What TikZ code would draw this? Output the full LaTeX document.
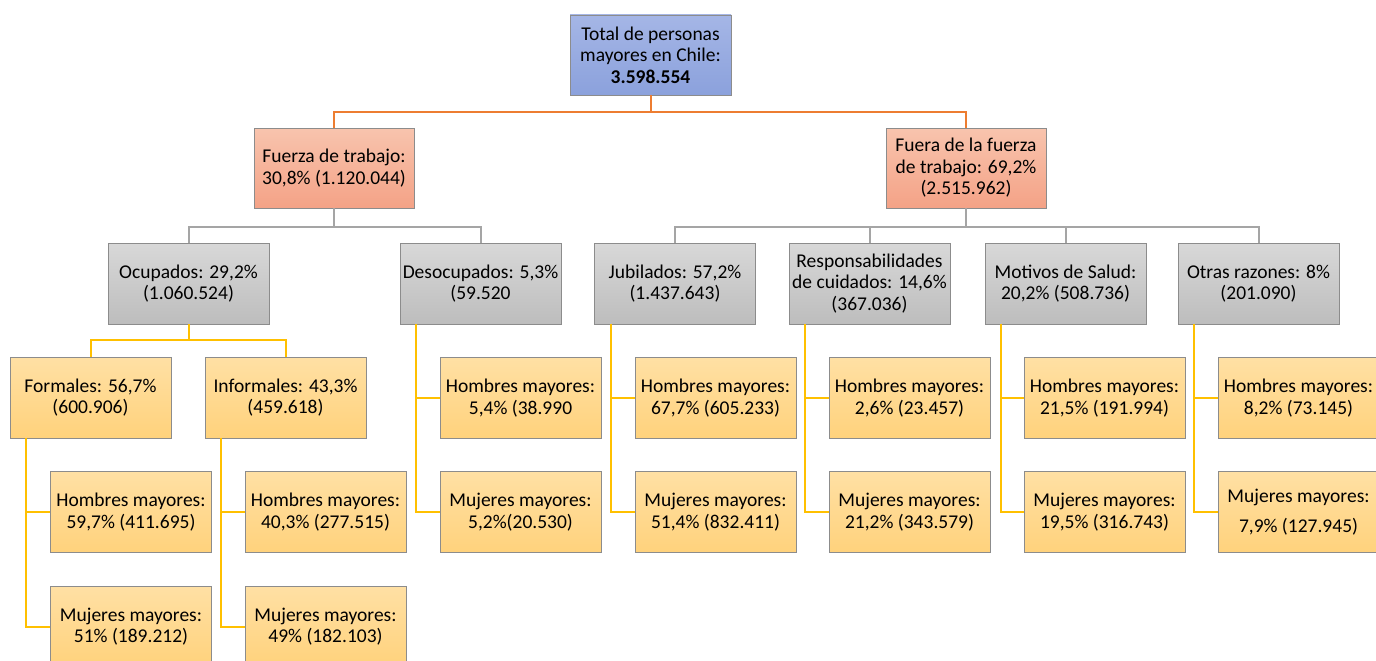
\documentclass[tikz,border=0pt]{standalone}
\usepackage{fontspec}
\setmainfont{Carlito}
\definecolor{blueT}{HTML}{A5B6E6}
\definecolor{blueB}{HTML}{8BA1DC}
\definecolor{orT}{HTML}{F8C4AE}
\definecolor{orB}{HTML}{F4A286}
\definecolor{grT}{HTML}{D8D8D8}
\definecolor{grB}{HTML}{BDBDBD}
\definecolor{yeT}{HTML}{FFE0A4}
\definecolor{yeB}{HTML}{FFD27C}
\definecolor{bord}{HTML}{8C8C8C}
\definecolor{lnO}{HTML}{ED7D31}
\definecolor{lnG}{HTML}{A5A5A5}
\definecolor{lnY}{HTML}{FFC000}
\tikzset{
  box/.style={draw=bord, line width=0.9pt, align=center, inner sep=2pt,
    minimum width=161pt, minimum height=81pt,
    font=\fontsize{19.5}{21.5}\selectfont},
  bluebox/.style={box, top color=blueT, bottom color=blueB},
  orbox/.style={box, top color=orT, bottom color=orB, minimum width=160pt, minimum height=80pt},
  grbox/.style={box, top color=grT, bottom color=grB},
  yebox/.style={box, top color=yeT, bottom color=yeB},
  oline/.style={draw=lnO, line width=2pt},
  gline/.style={draw=lnG, line width=2pt},
  yline/.style={draw=lnY, line width=2pt},
}
\begin{document}
\begin{tikzpicture}[x=1pt,y=-1pt]
\useasboundingbox (0,0) rectangle (1376,661);
\clip (0,0) rectangle (1376,661);
% level 0
\node[bluebox, minimum height=80pt] (top) at (650.5,55) {Total de personas\\mayores en Chile:\\\textbf{3.598.554}};
% level 1
\node[orbox] (fz) at (334,168) {Fuerza de trabajo:\\30,8\% (1.120.044)};
\node[orbox] (ff) at (966,168) {Fuera de la fuerza\\de trabajo: 69,2\%\\(2.515.962)};
% level 2
\node[grbox] (ocu) at (188.5,283.5) {Ocupados: 29,2\%\\(1.060.524)};
\node[grbox] (des) at (480.5,283.5) {Desocupados: 5,3\%\\(59.520};
\node[grbox] (jub) at (675,283.5) {Jubilados: 57,2\%\\(1.437.643)};
\node[grbox] (res) at (869.5,283.5) {Responsabilidades\\de cuidados: 14,6\%\\(367.036)};
\node[grbox] (mot) at (1065.5,283.5) {Motivos de Salud:\\20,2\% (508.736)};
\node[grbox] (otr) at (1258.5,283.5) {Otras razones: 8\%\\(201.090)};
% level 3 (ocupados)
\node[yebox] (for) at (90.5,397.5) {Formales: 56,7\%\\(600.906)};
\node[yebox] (inf) at (285.5,397.5) {Informales: 43,3\%\\(459.618)};
% leaves
\node[yebox] (forh) at (131,512) {Hombres mayores:\\59,7\% (411.695)};
\node[yebox] (form) at (131,626.5) {Mujeres mayores:\\51\% (189.212)};
\node[yebox] (infh) at (325.5,512) {Hombres mayores:\\40,3\% (277.515)};
\node[yebox] (infm) at (325.5,626.5) {Mujeres mayores:\\49\% (182.103)};
\node[yebox] (desh) at (520.5,398) {Hombres mayores:\\5,4\% (38.990};
\node[yebox] (desm) at (520.5,512) {Mujeres mayores:\\5,2\%(20.530)};
\node[yebox] (jubh) at (715.5,398) {Hombres mayores:\\67,7\% (605.233)};
\node[yebox] (jubm) at (715.5,512) {Mujeres mayores:\\51,4\% (832.411)};
\node[yebox] (resh) at (909.5,398) {Hombres mayores:\\2,6\% (23.457)};
\node[yebox] (resm) at (909.5,512) {Mujeres mayores:\\21,2\% (343.579)};
\node[yebox] (moth) at (1104.5,398) {Hombres mayores:\\21,5\% (191.994)};
\node[yebox] (motm) at (1104.5,512) {Mujeres mayores:\\19,5\% (316.743)};
\node[yebox] (otrh) at (1298.5,398) {Hombres mayores:\\8,2\% (73.145)};
\node[yebox] (otrm) at (1298.5,512) {Mujeres mayores:\\[8pt]7,9\% (127.945)};
% connectors
\draw[oline] (top.south) -- ++(0,17) -| (fz.north);
\draw[oline] (top.south) -- ++(0,17) -| (ff.north);
\draw[gline] (fz.south) -- ++(0,19) -| (ocu.north);
\draw[gline] (fz.south) -- ++(0,19) -| (des.north);
\draw[gline] (ff.south) -- ++(0,19) -| (jub.north);
\draw[gline] (ff.south) -- ++(0,19) -| (res.north);
\draw[gline] (ff.south) -- ++(0,19) -| (mot.north);
\draw[gline] (ff.south) -- ++(0,19) -| (otr.north);
\draw[yline] (ocu.south) -- ++(0,16) -| (for.north);
\draw[yline] (ocu.south) -- ++(0,16) -| (inf.north);
\foreach \p/\h/\m in {for/forh/form, inf/infh/infm, des/desh/desm, jub/jubh/jubm, res/resh/resm, mot/moth/motm, otr/otrh/otrm}{
  \draw[yline] ([xshift=16.5pt]\p.south west) |- (\h.west);
  \draw[yline] ([xshift=16.5pt]\p.south west) |- (\m.west);
}
\end{tikzpicture}
\end{document}
